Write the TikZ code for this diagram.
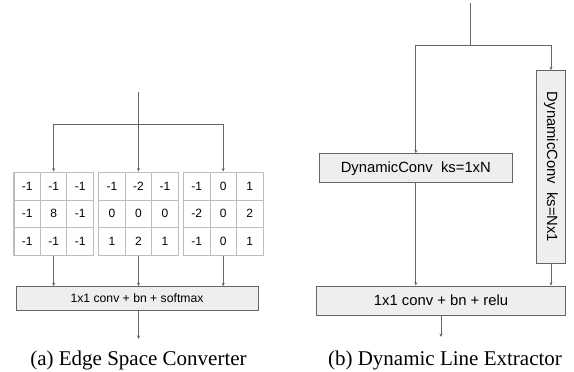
\documentclass[tikz,border=0pt]{standalone}
\usepackage{fontspec}
\setmainfont{Liberation Serif}
\setsansfont{Liberation Sans}
\usetikzlibrary{matrix,arrows.meta}
\definecolor{linegray}{HTML}{666666}
\definecolor{cellgray}{HTML}{BDBDBD}
\definecolor{boxfill}{HTML}{EEEEEE}
\tikzset{
  arr/.style={draw=linegray, line width=0.8pt, -{Stealth[length=3.5pt,width=3pt]}},
  ln/.style={draw=linegray, line width=0.8pt},
  cell/.style={draw=cellgray, line width=0.9pt, fill=white, minimum width=26.5pt, minimum height=27.5pt, inner sep=0pt, font=\sffamily\fontsize{12}{14}\selectfont, anchor=center},
  opbox/.style={draw=linegray, line width=0.8pt, fill=boxfill, inner sep=0pt, font=\sffamily\fontsize{12.2}{14}\selectfont},
  bigbox/.style={opbox, font=\sffamily\fontsize{14.8}{17}\selectfont},
  captext/.style={font=\fontsize{21}{24}\selectfont, inner sep=0pt}
}
\begin{document}
\begin{tikzpicture}[x=1pt,y=-1pt]
\useasboundingbox (0,0) rectangle (574,372);
% ---------- (a) ----------
\matrix (m1) at (53.7,213.8) [matrix of nodes, nodes={cell}, column sep=-0.9pt, row sep=-0.9pt, draw=cellgray, line width=0.9pt, inner sep=0pt]
{ -1 & -1 & -1 \\ -1 & 8 & -1 \\ -1 & -1 & -1 \\};
\matrix (m2) at (138.5,213.8) [matrix of nodes, nodes={cell}, column sep=-0.9pt, row sep=-0.9pt, draw=cellgray, line width=0.9pt, inner sep=0pt]
{ -1 & -2 & -1 \\ 0 & 0 & 0 \\ 1 & 2 & 1 \\};
\matrix (m3) at (223.2,213.8) [matrix of nodes, nodes={cell}, column sep=-0.9pt, row sep=-0.9pt, draw=cellgray, line width=0.9pt, inner sep=0pt]
{ -1 & 0 & 1 \\ -2 & 0 & 2 \\ -1 & 0 & 1 \\};
\node[opbox, minimum width=242pt, minimum height=23.3pt] (sm) at (137,298.3) {1x1 conv + bn + softmax};
\coordinate (inA) at (138.5,92);
\coordinate (jA) at (138.5,124);
\coordinate (outA) at (138.5,339);
\draw[ln] (inA) -- (jA);
\draw[ln] (m1.north |- jA) -- (m3.north |- jA);
\draw[arr] (m1.north |- jA) -- (m1.north);
\draw[arr] (jA) -- (m2.north);
\draw[arr] (m3.north |- jA) -- (m3.north);
\draw[arr] (m1.south) -- (m1.south |- sm.north);
\draw[arr] (m2.south) -- (m2.south |- sm.north);
\draw[arr] (m3.south) -- (m3.south |- sm.north);
\draw[arr] (sm.south -| outA) -- (outA);
\node[captext] (capA) at (138.5,360) {(a) Edge Space Converter};
% ---------- (b) ----------
\node[bigbox, minimum width=193pt, minimum height=29pt] (dh) at (415.8,168.2) {DynamicConv\ \ ks=1xN};
\node[bigbox, rotate=-90, minimum width=192.6pt, minimum height=28.6pt] (dv) at (551,167) {DynamicConv\ \ ks=Nx1};
\node[bigbox, minimum width=248.6pt, minimum height=29pt] (rl) at (441,300.5) {1x1 conv + bn + relu};
\coordinate (inB) at (470,3);
\coordinate (jB) at (470,45);
\coordinate (outB) at (441,337);
\draw[ln] (inB) -- (jB);
\draw[ln] (dh.north |- jB) -- (dv.west |- jB);
\draw[arr] (dh.north |- jB) -- (dh.north);
\draw[arr] (dv.west |- jB) -- (dv.west);
\draw[arr] (dh.south) -- (dh.south |- rl.north);
\draw[arr] (dv.east) -- (dv.east |- rl.north);
\draw[arr] (rl.south) -- (outB);
\node[captext] (capB) at (445,360) {(b) Dynamic Line Extractor};
\end{tikzpicture}
\end{document}
